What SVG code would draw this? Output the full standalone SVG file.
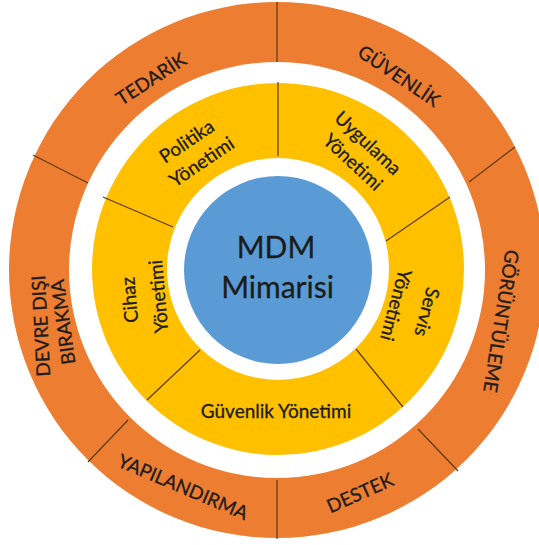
<svg xmlns="http://www.w3.org/2000/svg" width="539" height="545" viewBox="0 0 539 545">
  <style>
    .lbl { font-family: Lato, "Liberation Sans", sans-serif; fill: #1c1c1c; stroke: #1c1c1c; stroke-width: 0.3; }
    .outer { font-size: 19px; }
    .inner { font-size: 19px; }
    .core { font-size: 30px; }
    .div { stroke: #5e3a17; stroke-width: 1.2; fill: none; }
  </style>

  <g id="rings">
    <circle cx="277" cy="270" r="268" fill="#ED7D31"/>
    <circle cx="277" cy="270" r="208" fill="#FFFFFF"/>
    <circle cx="278" cy="269" r="186" fill="#FFC000"/>
    <circle cx="278" cy="269" r="111" fill="#FFFFFF"/>
  </g>

  <g id="connectors">
    <line class="div" x1="277" y1="2" x2="277" y2="62"/>
    <line class="div" x1="33" y1="155" x2="88" y2="183"/>
    <line class="div" x1="469" y1="182" x2="515" y2="147"/>
    <line class="div" x1="418" y1="429" x2="458" y2="471"/>
    <line class="div" x1="277" y1="480" x2="277" y2="539"/>
    <line class="div" x1="128" y1="420" x2="88" y2="462"/>
    <line class="div" x1="278" y1="82" x2="278" y2="156"/>
    <line class="div" x1="103" y1="197" x2="173" y2="227"/>
    <line class="div" x1="386" y1="241" x2="450" y2="197"/>
    <line class="div" x1="356" y1="349" x2="403" y2="407"/>
    <line class="div" x1="200" y1="350" x2="147" y2="400"/>
  </g>

  <g id="tedarik">
    <text class="lbl outer" text-anchor="middle" dy="0.35em" transform="translate(151,79) rotate(-33)">TEDARİK</text>
  </g>
  <g id="guvenlik">
    <text class="lbl outer" text-anchor="middle" dy="0.35em" transform="translate(399,76) rotate(34)">GÜVENLİK</text>
  </g>
  <g id="goruntuleme">
    <text class="lbl outer" text-anchor="middle" dy="0.35em" transform="translate(501,321) rotate(99)">GÖRÜNTÜLEME</text>
  </g>
  <g id="destek">
    <text class="lbl outer" text-anchor="middle" dy="0.35em" transform="translate(360,493) rotate(-24)">DESTEK</text>
  </g>
  <g id="yapilandirma">
    <text class="lbl outer" text-anchor="middle" dy="0.35em" transform="translate(183,487) rotate(23)">YAPILANDIRMA</text>
  </g>
  <g id="devre-disi-birakma">
    <text class="lbl outer" text-anchor="middle" dy="0.35em" transform="translate(41,326) rotate(-93)">DEVRE DIŞI</text>
    <text class="lbl outer" text-anchor="middle" dy="0.35em" transform="translate(63,322) rotate(-98)">BIRAKMA</text>
  </g>

  <g id="politika-yonetimi">
    <text class="lbl inner" text-anchor="middle" dy="0.35em" transform="translate(186.7,141.3) rotate(-34)">Politika</text>
    <text class="lbl inner" text-anchor="middle" dy="0.35em" transform="translate(201.7,161.7) rotate(-34)">Yönetimi</text>
  </g>
  <g id="uygulama-yonetimi">
    <text class="lbl inner" text-anchor="middle" dy="0.35em" transform="translate(368,143) rotate(43)">Uygulama</text>
    <text class="lbl inner" text-anchor="middle" dy="0.35em" transform="translate(353,162) rotate(43)">Yönetimi</text>
  </g>
  <g id="servis-yonetimi">
    <text class="lbl inner" text-anchor="middle" dy="0.35em" transform="translate(427,312) rotate(105)">Servis</text>
    <text class="lbl inner" text-anchor="middle" dy="0.35em" transform="translate(396,305) rotate(105)">Yönetimi</text>
  </g>
  <g id="guvenlik-yonetimi">
    <text class="lbl inner" text-anchor="middle" x="276" y="418">Güvenlik Yönetimi</text>
  </g>
  <g id="cihaz-yonetimi">
    <text class="lbl inner" text-anchor="middle" dy="0.35em" transform="translate(129.5,300) rotate(-95)">Cihaz</text>
    <text class="lbl inner" text-anchor="middle" dy="0.35em" transform="translate(158.5,296.5) rotate(-95)">Yönetimi</text>
  </g>

  <g id="mdm-mimarisi">
    <circle cx="278" cy="270" r="94" fill="#5B9BD5"/>
    <text class="lbl core" text-anchor="middle" x="276" y="258">MDM</text>
    <text class="lbl core" text-anchor="middle" x="277.5" y="298">Mimarisi</text>
  </g>
</svg>
